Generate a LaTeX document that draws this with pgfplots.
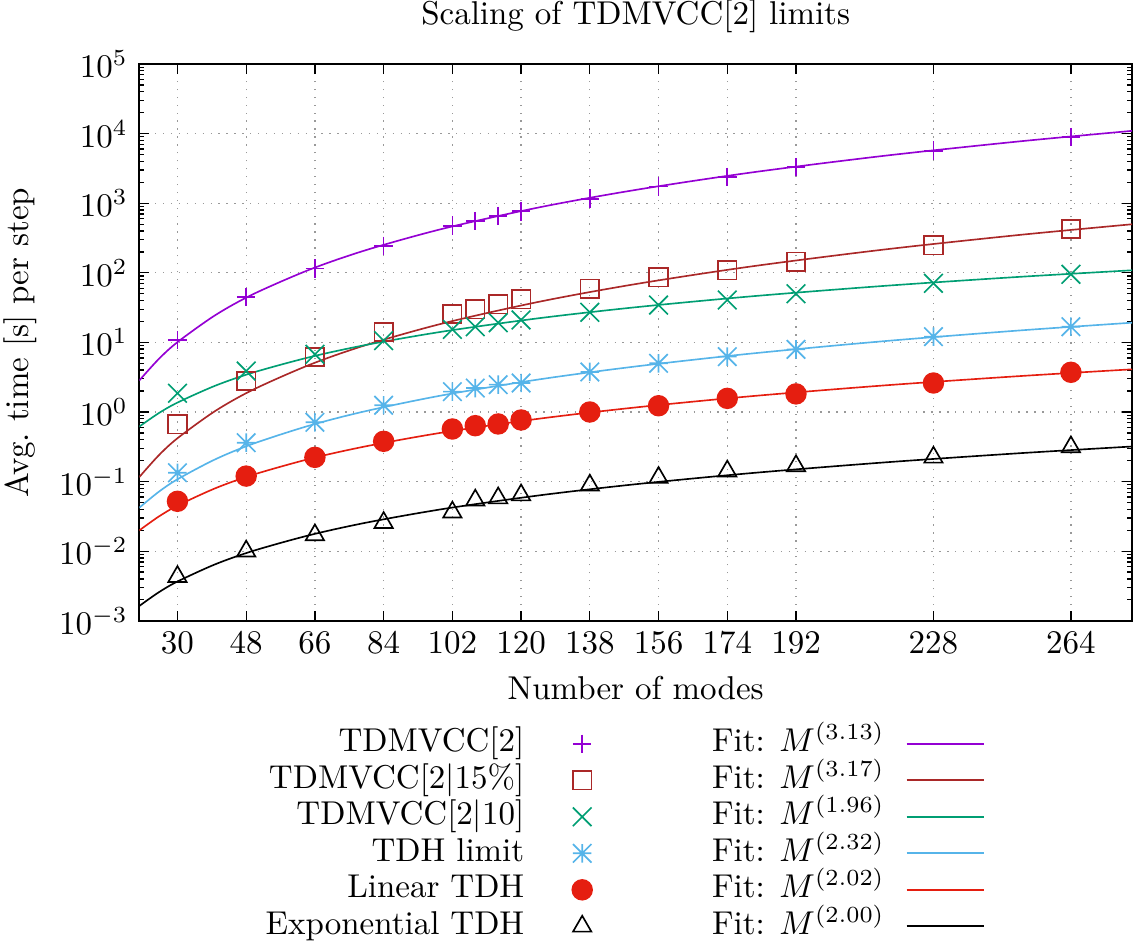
\documentclass[border=0pt]{standalone}
\usepackage{pgfplots}
\pgfplotsset{compat=1.18}

\definecolor{gppurple}{RGB}{148,0,211}
\definecolor{gpbrown}{RGB}{170,40,40}
\definecolor{gpgreen}{RGB}{0,158,115}
\definecolor{gpblue}{RGB}{86,180,233}
\definecolor{gpred}{RGB}{229,30,16}

% gnuplot style asterisk: + and x on top of each other
\pgfdeclareplotmark{gpast}{%
  \pgfpathmoveto{\pgfqpoint{-\pgfplotmarksize}{0pt}}%
  \pgfpathlineto{\pgfqpoint{\pgfplotmarksize}{0pt}}%
  \pgfpathmoveto{\pgfqpoint{0pt}{-\pgfplotmarksize}}%
  \pgfpathlineto{\pgfqpoint{0pt}{\pgfplotmarksize}}%
  \pgfpathmoveto{\pgfqpoint{-\pgfplotmarksize}{-\pgfplotmarksize}}%
  \pgfpathlineto{\pgfqpoint{\pgfplotmarksize}{\pgfplotmarksize}}%
  \pgfpathmoveto{\pgfqpoint{-\pgfplotmarksize}{\pgfplotmarksize}}%
  \pgfpathlineto{\pgfqpoint{\pgfplotmarksize}{-\pgfplotmarksize}}%
  \pgfusepathqstroke}

\pgfplotsset{
  fitline/.style={no marks, smooth, line width=0.5pt,
    legend image code/.code={\draw[##1] (0pt,0pt) -- (23.6pt,0pt);}},
  pts/.style={only marks, line width=0.5pt,
    legend image code/.code={\path (-8.5pt,0pt) (8.5pt,0pt);
      \draw[##1] plot coordinates {(0pt,0pt)};}},
}

\begin{document}
\begin{tikzpicture}
\begin{axis}[
    name=ax,
    scale only axis,
    width=300.8pt, height=168.7pt,
    xmin=20, xmax=280,
    ymode=log, ymin=1e-3, ymax=1e5,
    xtick={30,48,66,84,102,120,138,156,174,192,228,264},
    ytick={1e-3,1e-2,1e-1,1,10,100,1000,1e4,1e5},
    minor ytick={2e-3,3e-3,4e-3,5e-3,6e-3,7e-3,8e-3,9e-3,
                 2e-2,3e-2,4e-2,5e-2,6e-2,7e-2,8e-2,9e-2,
                 0.2,0.3,0.4,0.5,0.6,0.7,0.8,0.9,
                 2,3,4,5,6,7,8,9,
                 20,30,40,50,60,70,80,90,
                 200,300,400,500,600,700,800,900,
                 2000,3000,4000,5000,6000,7000,8000,9000,
                 2e4,3e4,4e4,5e4,6e4,7e4,8e4,9e4},
    title={Scaling of TDMVCC[2] limits},
    xlabel={Number of modes},
    ylabel={Avg.\ time [s] per step},
    grid=major,
    grid style={dotted, gray!80, line width=0.4pt},
    tick align=inside, tick pos=both,
    major tick length=3pt, minor tick length=1.5pt,
    tick style={black, line width=0.4pt},
    axis line style={line width=0.6pt},
    legend plot pos=right,
    legend columns=2,
    legend style={
        draw=none, fill=none, inner sep=0pt,
        at={(0.1267,-0.187)}, anchor=north west,
        cells={anchor=east},
        nodes={inner sep=0pt, text height=8pt, text depth=3.06pt},
        /tikz/column 1/.style={column sep=8.8pt},
        /tikz/column 2/.style={column sep=30.6pt},
        /tikz/column 3/.style={column sep=6.4pt},
    },
]
% TDMVCC[2]
\addplot[pts, color=gppurple, mark=+, mark size=2.8pt] coordinates {
    (30,10.8) (48,45) (66,115) (84,243) (102,475) (108,555) (114,660)
    (120,765) (138,1160) (156,1730) (174,2400) (192,3310) (228,5680) (264,8930)
};
\addlegendentry{TDMVCC[2]}
\addplot[fitline, color=gppurple] coordinates {
    (20,2.833) (25,5.695) (30,10.08) (40,24.80) (50,49.85) (65,113.3) (80,217.1)
    (100,436.5) (125,877.7) (150,1553) (180,2748) (215,4792) (250,7684) (280,10955)
};
\addlegendentry{Fit: $M^{(3.13)}$}

% TDMVCC[2|15%]
\addplot[pts, color=gpbrown, mark=square, mark size=2.8pt] coordinates {
    (30,0.665) (48,2.79) (66,6.17) (84,14.1) (102,25.6) (108,29.9) (114,35.3)
    (120,41.6) (138,59.2) (156,86.1) (174,108.6) (192,144.5) (228,248) (264,425)
};
\addlegendentry{TDMVCC[2$|$15\%]}
\addplot[fitline, color=gpbrown] coordinates {
    (20,0.1160) (25,0.2352) (30,0.4194) (40,1.043) (50,2.117) (65,4.862) (80,9.393)
    (100,19.05) (125,38.66) (150,68.89) (180,122.8) (215,215.7) (250,347.9) (280,498.3)
};
\addlegendentry{Fit: $M^{(3.17)}$}

% TDMVCC[2|10]
\addplot[pts, color=gpgreen, mark=x, mark size=4pt] coordinates {
    (30,1.86) (48,3.88) (66,6.75) (84,10.6) (102,15.4) (108,16.8) (114,19.2)
    (120,21.0) (138,27.1) (156,34.4) (174,40.6) (192,50.1) (228,70.6) (264,95.1)
};
\addlegendentry{TDMVCC[2$|$10]}
\addplot[fitline, color=gpgreen] coordinates {
    (20,0.6166) (25,0.9550) (30,1.365) (40,2.399) (50,3.715) (65,6.213) (80,9.335)
    (100,14.45) (125,22.38) (150,32.00) (180,45.75) (215,64.80) (250,87.10) (280,108.7)
};
\addlegendentry{Fit: $M^{(1.96)}$}

% TDH limit
\addplot[pts, color=gpblue, mark=gpast, mark size=2.8pt] coordinates {
    (30,0.134) (48,0.362) (66,0.711) (84,1.25) (102,1.96) (108,2.21) (114,2.47)
    (120,2.61) (138,3.76) (156,5.01) (174,6.24) (192,7.95) (228,12.1) (264,16.8)
};
\addlegendentry{TDH limit}
\addplot[fitline, color=gpblue] coordinates {
    (20,0.04211) (25,0.07066) (30,0.1079) (40,0.2102) (50,0.3528) (65,0.6486) (80,1.050)
    (100,1.762) (125,2.957) (150,4.512) (180,6.889) (215,10.41) (250,14.77) (280,19.20)
};
\addlegendentry{Fit: $M^{(2.32)}$}

% Linear TDH
\addplot[pts, color=gpred, mark=*, mark size=3pt] coordinates {
    (30,0.0521) (48,0.120) (66,0.223) (84,0.379) (102,0.570) (108,0.636) (114,0.673)
    (120,0.768) (138,1.0) (156,1.23) (174,1.57) (192,1.82) (228,2.61) (264,3.72)
};
\addlegendentry{Linear TDH}
\addplot[fitline, color=gpred] coordinates {
    (20,0.01987) (25,0.03118) (30,0.04507) (40,0.08058) (50,0.1264) (65,0.2149) (80,0.3267)
    (100,0.5129) (125,0.8052) (150,1.163) (180,1.681) (215,2.407) (250,3.264) (280,4.105)
};
\addlegendentry{Fit: $M^{(2.02)}$}

% Exponential TDH
\addplot[pts, color=black, mark=triangle, mark size=3.2pt] coordinates {
    (30,0.0043) (48,0.0100) (66,0.0171) (84,0.0257) (102,0.0363) (108,0.054) (114,0.058)
    (120,0.064) (138,0.0885) (156,0.114) (174,0.141) (192,0.168) (228,0.223) (264,0.314)
};
\addlegendentry{Exponential TDH}
\addplot[fitline, color=black] coordinates {
    (20,0.001630) (25,0.002545) (30,0.003666) (40,0.006519) (50,0.01018) (65,0.01721) (80,0.02607)
    (100,0.04074) (125,0.06365) (150,0.09167) (180,0.1320) (215,0.1883) (250,0.2546) (280,0.3193)
};
\addlegendentry{Fit: $M^{(2.00)}$}
\end{axis}
\pgfresetboundingbox
\path[use as bounding box] ([xshift=-42.2pt,yshift=-97.7pt]ax.south west)
    rectangle ([xshift=0.3pt,yshift=19.4pt]ax.north east);
\end{tikzpicture}
\end{document}
